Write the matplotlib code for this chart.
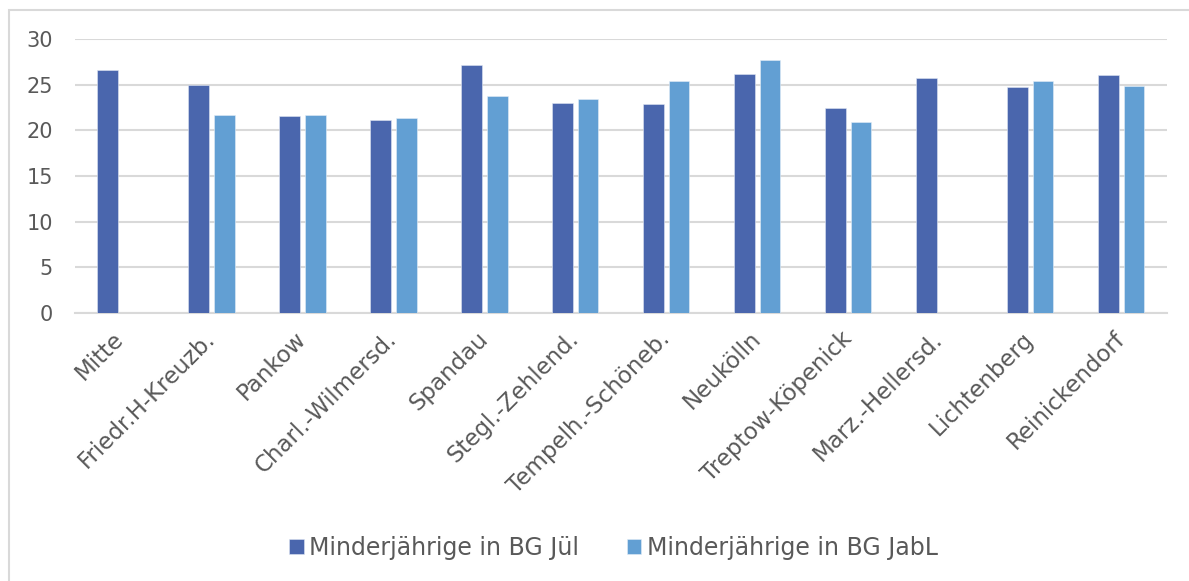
import matplotlib.pyplot as plt
import numpy as np
from matplotlib.patches import Rectangle

districts = ['Mitte', 'Friedr.H-Kreuzb.', 'Pankow', 'Charl.-Wilmersd.', 'Spandau',
             'Stegl.-Zehlend.', 'Tempelh.-Schöneb.', 'Neukölln', 'Treptow-Köpenick',
             'Marz.-Hellersd.', 'Lichtenberg', 'Reinickendorf']
jul = [26.6, 25.0, 21.6, 21.1, 27.2, 23.0, 22.9, 26.2, 22.5, 25.7, 24.7, 26.1]
jabl = [np.nan, 21.7, 21.7, 21.3, 23.8, 23.4, 25.4, 27.7, 20.9, np.nan, 25.4, 24.9]
series_names = ['Minderjährige in BG Jül', 'Minderjährige in BG JabL']
yticks = [0, 5, 10, 15, 20, 25, 30]

text_gray = '#595959'
grid_gray = '#d9d9d9'
colors = ['#4a66ad', '#629fd3']

plt.rcParams['font.family'] = ['DejaVu Sans']

fig = plt.figure(figsize=(11.89, 5.81), dpi=100)
ax = fig.add_axes([75 / 1189, 1 - 313 / 581, (1166.7 - 75) / 1189, (313 - 39) / 581])

# light frame around the chart
fig.patches.append(Rectangle((9 / 1189, -0.1), 1.2, 1.1 - 10 / 581, transform=fig.transFigure,
                             fill=False, edgecolor=grid_gray, linewidth=1.5))

x = np.arange(len(districts))
width = 0.227
offset = 0.1407
bars1 = ax.bar(x - offset, jul, width, color=colors[0], edgecolor='#dfe6f3', linewidth=0.4,
               label=series_names[0], zorder=3)
bars2 = ax.bar(x + offset, jabl, width, color=colors[1], edgecolor='#e3eef8', linewidth=0.4,
               label=series_names[1], zorder=3)

ax.set_xlim(-0.5, len(districts) - 0.5)
ax.set_ylim(0, 30)
ax.set_yticks(yticks)
ax.yaxis.grid(True, color=grid_gray, linewidth=1.5, zorder=0)
for s in ['top', 'right', 'left']:
    ax.spines[s].set_visible(False)
ax.spines['bottom'].set_color(grid_gray)
ax.spines['bottom'].set_linewidth(1.5)
ax.tick_params(axis='y', length=0, pad=16, labelsize=15, labelcolor=text_gray)
ax.tick_params(axis='x', length=0, pad=16, labelsize=16.5, labelcolor=text_gray)
ax.set_xticks(x)
ax.set_xticklabels(districts, rotation=45, ha='right', va='center', rotation_mode='anchor')

fig.legend(handles=[bars1, bars2], labels=series_names, loc='center', ncol=2,
           bbox_to_anchor=(0.516, 1 - 548 / 581), frameon=False, fontsize=17,
           labelcolor=text_gray, handlelength=0.6, handleheight=0.6, handletextpad=0.25,
           columnspacing=2.0)

fig.savefig('out.png', dpi=100)
